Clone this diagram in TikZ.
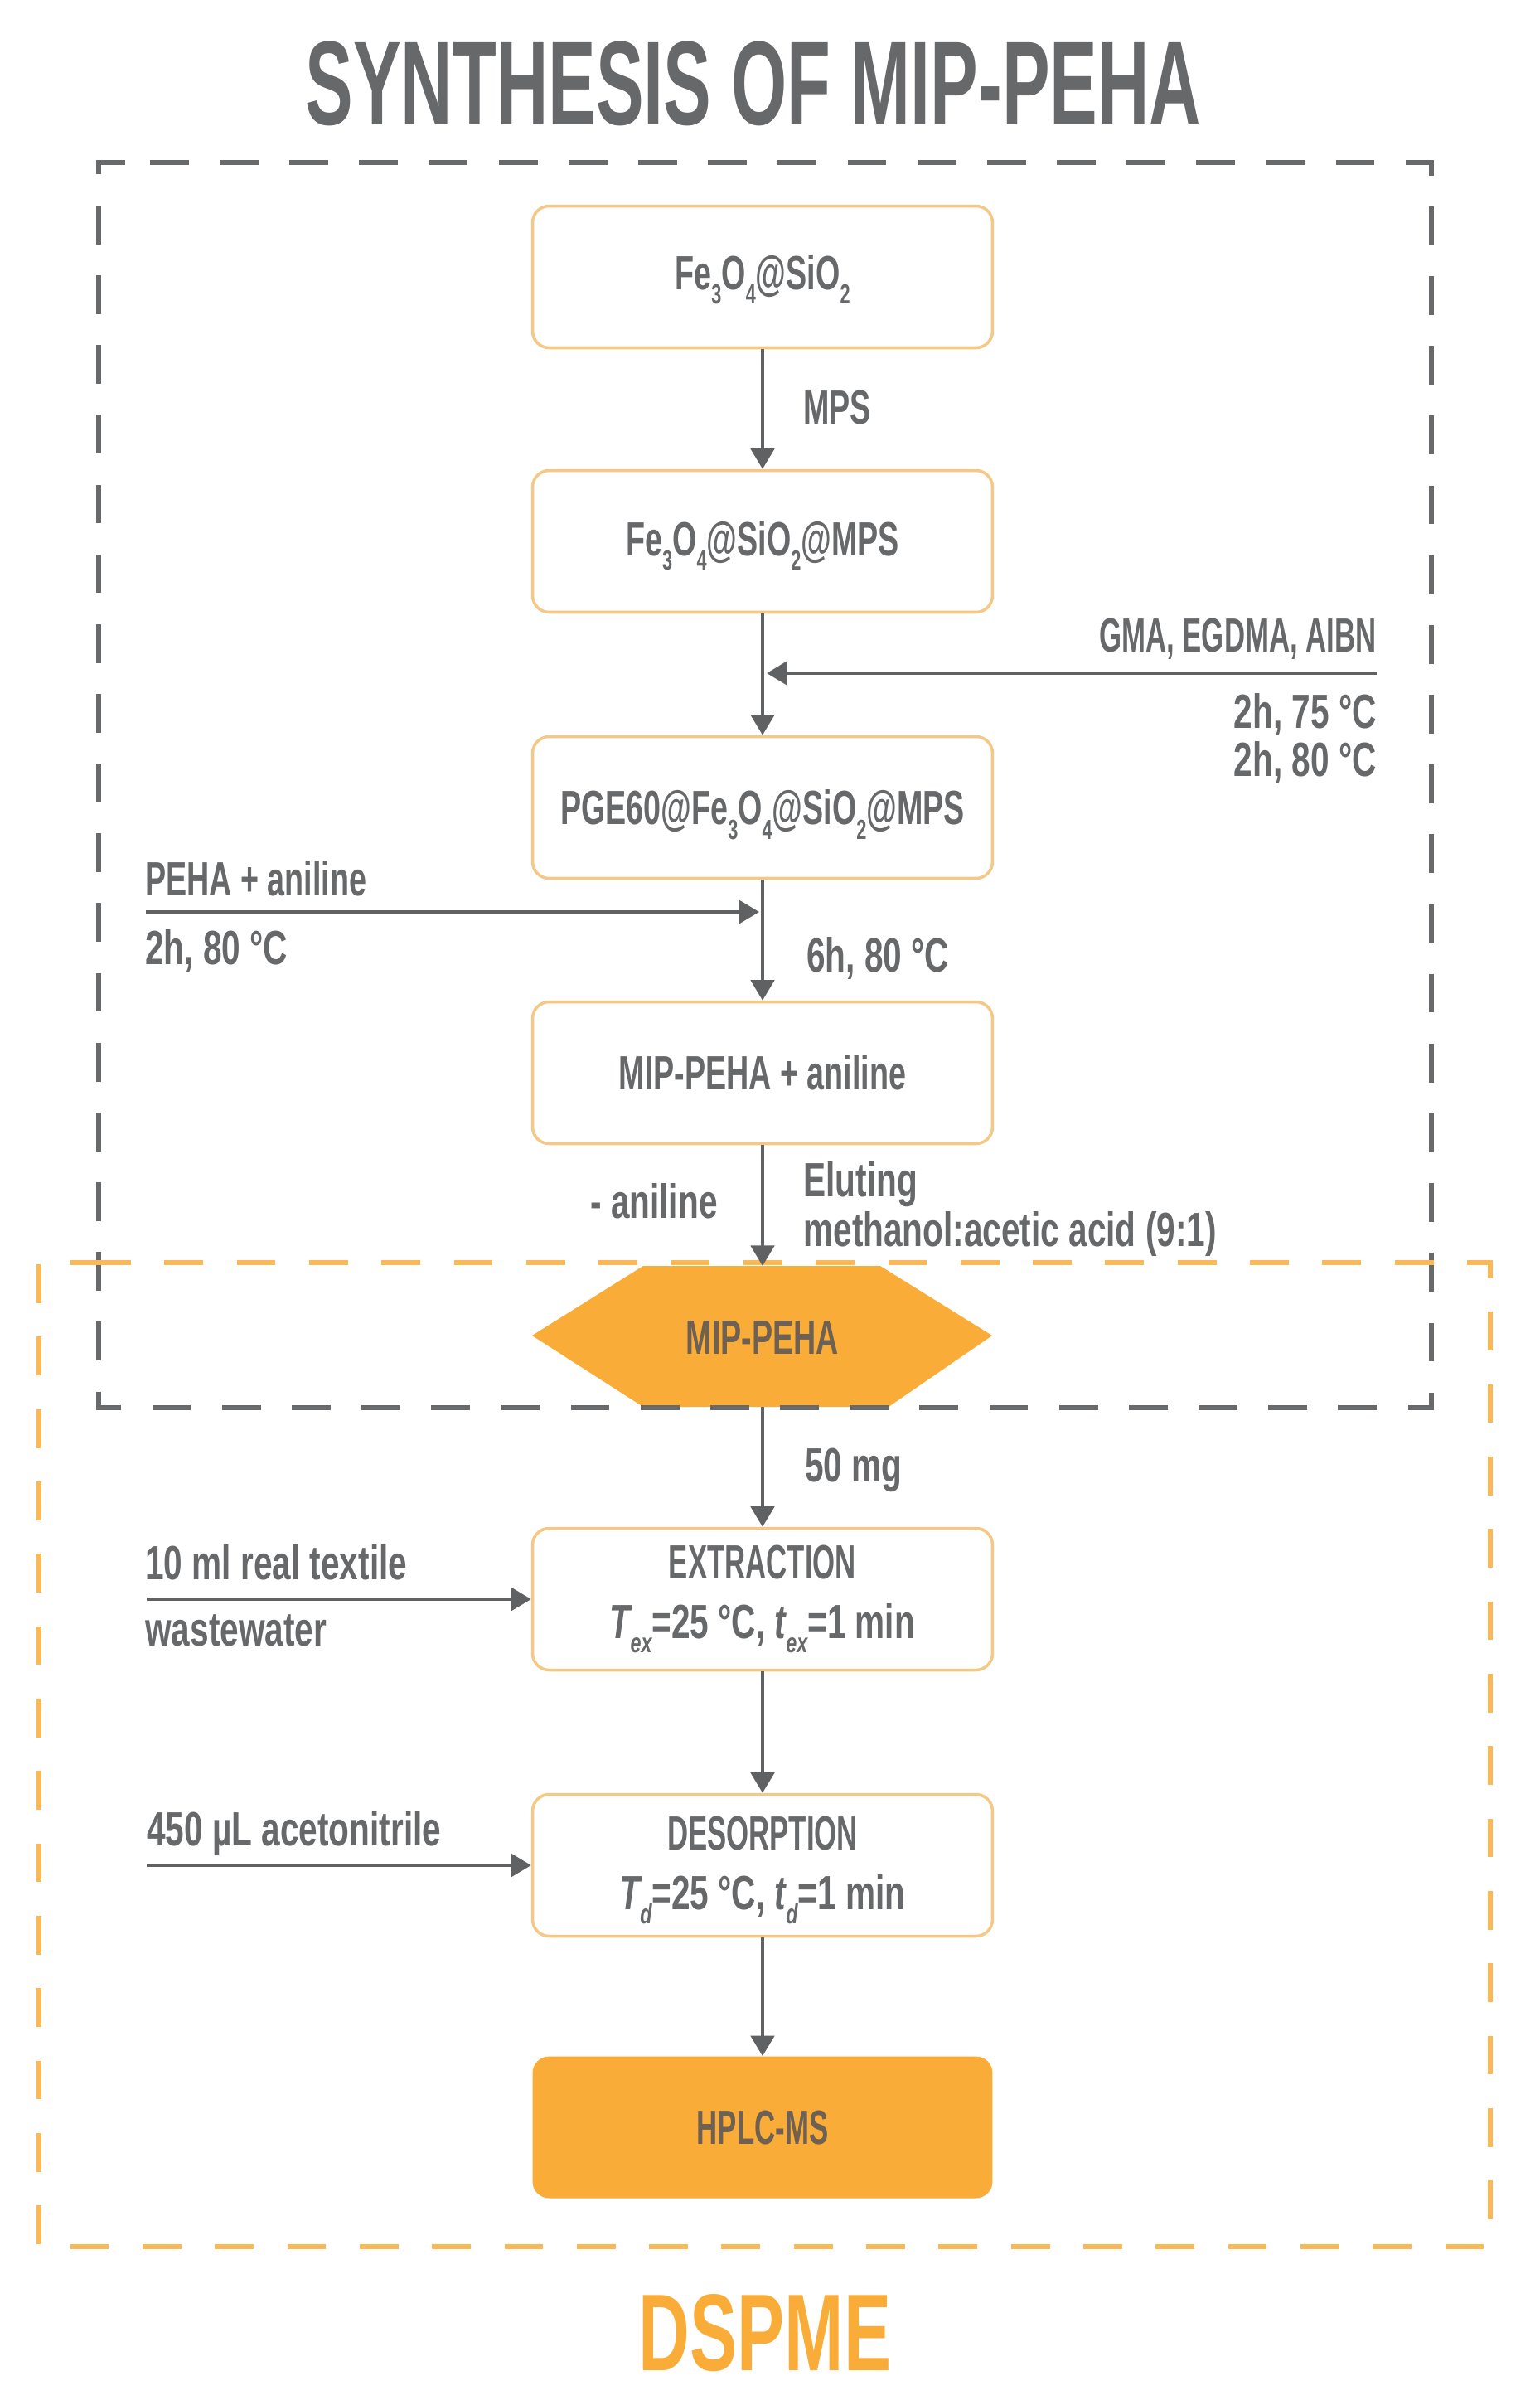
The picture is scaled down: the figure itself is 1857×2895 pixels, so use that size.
\documentclass[tikz,border=0pt]{standalone}
\usepackage{fontspec}
\setmainfont[FakeStretch=0.6]{Liberation Sans}
\newfontfamily\fM[FakeStretch=0.65]{Liberation Sans}
\newfontfamily\fW[FakeStretch=0.7]{Liberation Sans}
\usetikzlibrary{arrows.meta}
\definecolor{txtgrey}{HTML}{67686A}
\definecolor{linegrey}{HTML}{5F6163}
\definecolor{dashgrey}{HTML}{68696B}
\definecolor{orfill}{HTML}{F9AD38}
\definecolor{oredge}{HTML}{F5C985}
\definecolor{ordark}{HTML}{6E6153}
\newcommand{\sbs}[1]{\raisebox{-.3em}{\fontsize{19}{19}\selectfont #1}}
\newcommand{\bfnt}{\fontsize{33}{40}\selectfont\bfseries}
\tikzset{
  x=0.02cm,y=-0.02cm,
  base text/.style={font=\bfnt,text=txtgrey,inner sep=0pt},
  mid/.style={font=\fM\bfnt},
  wide/.style={font=\fW\bfnt},
  lab/.style={base text,anchor=base west},
  labr/.style={base text,anchor=base east},
  box common/.style={base text,minimum width=11.1cm,minimum height=3.42cm,rounded corners=0.4cm,align=center},
  stepbox/.style={box common,draw=oredge,line width=2pt,fill=white},
  endbox/.style={box common,fill=orfill,text=ordark},
  flow/.style={draw=linegrey,line width=2.6pt,-{Triangle[length=14pt,width=16pt]}},
  frame grey/.style={draw=dashgrey,line width=3.2pt,dash pattern=on 26.6pt off 21.3pt},
  frame orange/.style={draw=orfill!85!white,line width=3.2pt,dash pattern=on 26.6pt off 23.1pt},
}
\begin{document}
\begin{tikzpicture}
\useasboundingbox[fill=white] (0,0) rectangle (1857,2895);
% title
\node[font=\fontsize{82}{90}\selectfont\bfseries,text=txtgrey,inner sep=0pt,anchor=base] (title) at (909,150) {SYNTHESIS OF MIP-PEHA};
\node[font=\fM\fontsize{75}{80}\selectfont\bfseries,text=orfill,inner sep=0pt,anchor=base] (dspme) at (923,2859) {DSPME};
% hexagon
\path[fill=orfill] (642,1611) -- (776,1527) -- (1062,1527) -- (1197,1611) -- (1072,1697) -- (776,1697) -- cycle;
\node[base text,mid,text=ordark,anchor=center,text height=23.6pt,text depth=0pt] (hex) at (920,1613) {MIP-PEHA};
% dashed frames
\draw[frame grey] (181,196) -- (1727,196) -- (1727,1698) -- (119,1698) -- (119,196) -- cycle;
\draw[frame orange] (111,1523) -- (1798,1523) -- (1798,2710) -- (47,2710) -- (47,1523) -- cycle;
% boxes
\node[stepbox,mid,text height=23.6pt,text depth=6pt] (b1) at (920,334) {Fe\sbs{3}O\sbs{4}@SiO\sbs{2}};
\node[stepbox,mid,text height=23.6pt,text depth=4pt] (b2) at (920,653) {Fe\sbs{3}O\sbs{4}@SiO\sbs{2}@MPS};
\node[stepbox,mid,text height=23.6pt,text depth=0pt] (b3) at (920,974) {PGE60@Fe\sbs{3}O\sbs{4}@SiO\sbs{2}@MPS};
\node[stepbox,mid,text height=23.6pt,text depth=0pt] (b4) at (920,1294) {MIP-PEHA + aniline};
\node[stepbox,wide] (ext) at (920,1929) {{\rmfamily EXTRACTION}\\[1pt]{\itshape T}\sbs{\itshape ex}=25 °C, {\itshape t}\sbs{\itshape ex}=1 min};
\node[stepbox,wide] (des) at (920,2250) {\rule{0pt}{30pt}{\rmfamily DESORPTION}\\[1pt]{\itshape T}\sbs{\itshape d}=25 °C, {\itshape t}\sbs{\itshape d}=1 min};
\node[endbox,text height=23.6pt,text depth=0pt] (hplc) at (920,2566) {HPLC-MS};
% helper coordinates
\coordinate (hextop) at (920,1527);
\coordinate (hexbot) at (920,1697);
\coordinate (jr) at (925,812);
\coordinate (jl) at (916,1100);
\coordinate (sr) at (1661,812);
\coordinate (sl) at (176,1100);
\coordinate (sw) at (177,1929);
\coordinate (sd) at (177,2250);
% connectors
\draw[flow] (b1) -- (b2);
\draw[flow] (b2) -- (b3);
\draw[flow] (sr) -- (jr);
\draw[flow] (b3) -- (b4);
\draw[flow] (sl) -- (jl);
\draw[flow] (b4) -- (hextop);
\draw[flow] (hexbot) -- (ext);
\draw[flow] (sw) -- (ext);
\draw[flow] (ext) -- (des);
\draw[flow] (sd) -- (des);
\draw[flow] (des) -- (hplc);
% labels
\node[lab,mid] (l1) at (969,511) {MPS};
\node[labr] (l2) at (1661,786) {GMA, EGDMA, AIBN};
\node[labr,wide] (l3) at (1661,878) {2h, 75 °C};
\node[labr,wide] (l4) at (1661,936) {2h, 80 °C};
\node[lab,mid] (l5) at (175,1080) {PEHA + aniline};
\node[lab,wide] (l6) at (175,1163) {2h, 80 °C};
\node[lab,wide] (l7) at (973,1172) {6h, 80 °C};
\node[labr,wide] (l8) at (866,1469) {- aniline};
\node[lab,wide] (l9) at (969,1443) {Eluting};
\node[lab,wide] (l10) at (969,1503) {methanol:acetic acid (9:1)};
\node[lab,wide] (l11) at (971,1787) {50 mg};
\node[lab,wide] (l12) at (175,1905) {10 ml real textile};
\node[lab,wide] (l13) at (175,1985) {wastewater};
\node[lab,wide] (l14) at (177,2226) {450 µL acetonitrile};
\end{tikzpicture}
\end{document}
